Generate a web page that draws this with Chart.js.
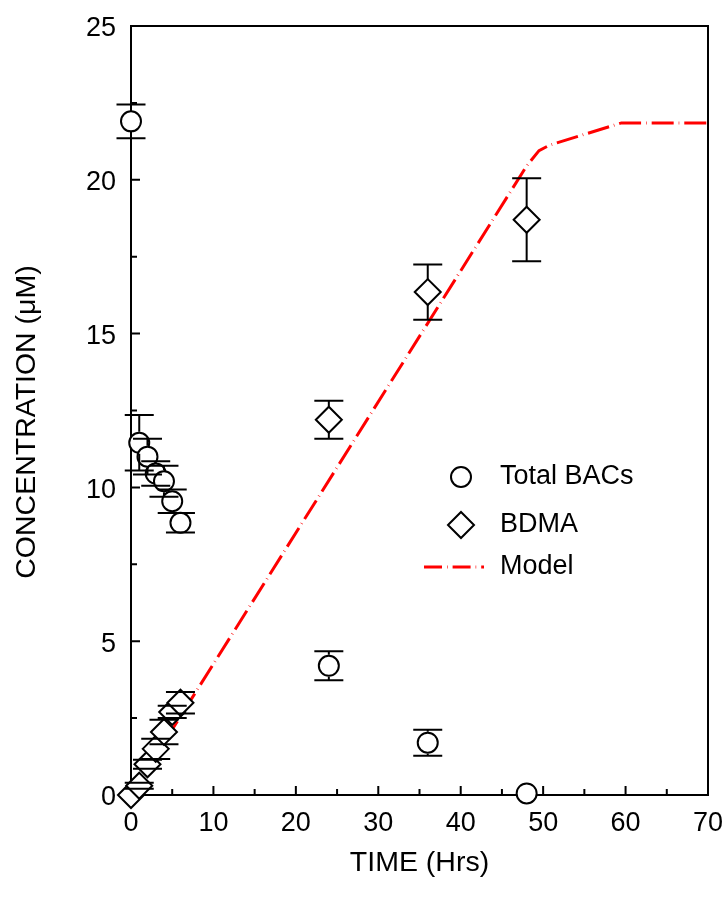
<!DOCTYPE html>
<html>
<head>
<meta charset="utf-8">
<script src="https://cdn.jsdelivr.net/npm/chart.js@4/dist/chart.umd.min.js"></script>
<style>
html,body{margin:0;padding:0;background:#fff;}
canvas{display:block;}
</style>
</head>
<body>
<canvas id="c" width="726" height="898"></canvas>
<script>
// ---- data ----
const times = [0, 1, 2, 3, 4, 5, 6, 24, 36, 48];
const totalBACs = [21.9, 11.45, 11.0, 10.45, 10.2, 9.55, 8.85, 4.2, 1.7, 0.05];
const totalBACsErr = [0.55, 0.9, 0.58, 0.4, 0.5, 0.38, 0.32, 0.47, 0.42, 0];
const bdma = [0, 0.3, 1.0, 1.5, 2.05, 2.7, 3.0, 12.2, 16.35, 18.7];
const bdmaErr = [0, 0.1, 0.15, 0.33, 0.4, 0.2, 0.35, 0.62, 0.9, 1.35];
const modelT = [0, 48, 49.5, 50.8, 59.5, 70];
const modelY = [0, 20.45, 20.95, 21.13, 21.85, 21.85];
const xTicks = [0, 10, 20, 30, 40, 50, 60, 70];
const yTicks = [0, 5, 10, 15, 20, 25];
const legendLabels = ['Total BACs', 'BDMA', 'Model'];
const xTitle = 'TIME (Hrs)';
const yTitle = 'CONCENTRATION (\u03BCM)';

const FONT = "Arial, 'Liberation Sans', sans-serif";
const FS = 27;
const TFS = 28.5;

function pts(xs, ys) { return xs.map((x, i) => ({ x: x, y: ys[i] })); }

const MODEL_DASH = [22, 5, 0.6, 5];

const framePlugin = {
  id: 'frame',
  beforeDatasetsDraw(chart) {
    const ctx = chart.ctx;
    const a = chart.chartArea;
    ctx.save();
    ctx.strokeStyle = '#000';
    ctx.lineWidth = 2;
    ctx.strokeRect(a.left, a.top, a.right - a.left, a.bottom - a.top);
    ctx.restore();
  },
  afterDatasetsDraw(chart) {
    const ctx = chart.ctx;
    const xs = chart.scales.x, ys = chart.scales.y;
    const drawErr = (vals, errs, edge) => {
      ctx.save();
      ctx.strokeStyle = '#000';
      ctx.lineWidth = 2;
      vals.forEach((v, i) => {
        const e = errs[i];
        if (!e) return;
        const px = xs.getPixelForValue(times[i]);
        const py = ys.getPixelForValue(v);
        const top = ys.getPixelForValue(v + e);
        const bot = ys.getPixelForValue(v - e);
        ctx.beginPath();
        if (py - top > edge) { ctx.moveTo(px, top); ctx.lineTo(px, py - edge); }
        if (bot - py > edge) { ctx.moveTo(px, py + edge); ctx.lineTo(px, bot); }
        ctx.moveTo(px - 14.5, top); ctx.lineTo(px + 14.5, top);
        ctx.moveTo(px - 14.5, bot); ctx.lineTo(px + 14.5, bot);
        ctx.stroke();
      });
      ctx.restore();
    };
    drawErr(totalBACs, totalBACsErr, 11);
    drawErr(bdma, bdmaErr, 13);
  },
  afterDraw(chart) {
    const ctx = chart.ctx;
    const a = chart.chartArea;
    const xs = chart.scales.x, ys = chart.scales.y;
    ctx.save();
    ctx.strokeStyle = '#000';
    ctx.lineWidth = 2;
    // inward ticks
    ctx.beginPath();
    for (let v = xs.min; v <= xs.max + 1e-9; v += 5) {
      if (v === xs.min || v === xs.max) continue;
      const px = xs.getPixelForValue(v);
      const len = (v % 10 === 0) ? 9 : 6;
      ctx.moveTo(px, a.bottom); ctx.lineTo(px, a.bottom - len);
    }
    for (let v = ys.min; v <= ys.max + 1e-9; v += 2.5) {
      if (v === ys.min || v === ys.max) continue;
      const py = ys.getPixelForValue(v);
      const len = (v % 5 === 0) ? 9 : 6;
      ctx.moveTo(a.left, py); ctx.lineTo(a.left + len, py);
    }
    ctx.stroke();

    // y-axis title
    ctx.fillStyle = '#000';
    ctx.font = TFS + 'px ' + FONT;
    ctx.textAlign = 'center';
    ctx.textBaseline = 'middle';
    ctx.save();
    ctx.translate(27, 422);
    ctx.rotate(-Math.PI / 2);
    ctx.fillText(yTitle, 0, 0);
    ctx.restore();

    // legend
    const lx = 461, ly = [477, 525, 567];
    ctx.fillStyle = '#fff';
    ctx.strokeStyle = '#000';
    ctx.lineWidth = 2;
    ctx.beginPath(); ctx.arc(lx, ly[0], 10, 0, Math.PI * 2); ctx.fill(); ctx.stroke();
    ctx.beginPath();
    ctx.moveTo(lx - 13, ly[1]); ctx.lineTo(lx, ly[1] - 13); ctx.lineTo(lx + 13, ly[1]); ctx.lineTo(lx, ly[1] + 13); ctx.closePath();
    ctx.fill(); ctx.stroke();
    ctx.strokeStyle = '#ff0000';
    ctx.lineWidth = 3;
    ctx.setLineDash([18, 5, 0.6, 5]);
    ctx.beginPath(); ctx.moveTo(424, ly[2]); ctx.lineTo(484, ly[2]); ctx.stroke();
    ctx.setLineDash([]);
    ctx.fillStyle = '#000';
    ctx.font = FS + 'px ' + FONT;
    ctx.textBaseline = 'middle';
    ctx.textAlign = 'left';
    legendLabels.forEach((t, i) => ctx.fillText(t, 500, ly[i]));
    ctx.restore();
  }
};

new Chart(document.getElementById('c'), {
  type: 'scatter',
  data: {
    datasets: [
      {
        label: legendLabels[0],
        data: pts(times, totalBACs),
        pointStyle: 'circle',
        pointRadius: 10,
        pointBorderWidth: 2,
        borderColor: '#000',
        backgroundColor: '#fff',
        showLine: false,
        clip: false
      },
      {
        label: legendLabels[1],
        data: pts(times, bdma),
        pointStyle: 'rectRot',
        pointRadius: 13,
        pointBorderWidth: 2,
        borderColor: '#000',
        backgroundColor: '#fff',
        showLine: false,
        clip: false
      },
      {
        label: legendLabels[2],
        data: pts(modelT, modelY),
        showLine: true,
        pointRadius: 0,
        borderColor: '#ff0000',
        borderWidth: 3,
        borderDash: MODEL_DASH,
        fill: false,
        tension: 0
      }
    ]
  },
  options: {
    responsive: false,
    animation: false,
    layout: { padding: { top: 26, right: 18, left: 0, bottom: 0 } },
    plugins: { legend: { display: false }, tooltip: { enabled: false } },
    scales: {
      x: {
        type: 'linear', min: 0, max: 70,
        afterBuildTicks(s) { s.ticks = xTicks.map(v => ({ value: v })); },
        afterFit(s) { s.height = 103; s.paddingLeft = 0; s.paddingRight = 0; },
        grid: { display: false, drawTicks: false },
        border: { display: true, color: '#000', width: 2 },
        ticks: { color: '#000', font: { family: FONT, size: FS }, padding: 12, maxRotation: 0, autoSkip: false },
        title: { display: true, text: xTitle, color: '#000', font: { family: FONT, size: TFS }, padding: { top: 0, bottom: 18 } }
      },
      y: {
        type: 'linear', min: 0, max: 25,
        afterBuildTicks(s) { s.ticks = yTicks.map(v => ({ value: v })); },
        afterFit(s) { s.width = 131; s.paddingTop = 0; s.paddingBottom = 0; },
        grid: { display: false, drawTicks: false },
        border: { display: true, color: '#000', width: 2 },
        ticks: { color: '#000', font: { family: FONT, size: FS }, padding: 15, labelOffset: 3, autoSkip: false },
        title: { display: false }
      }
    }
  },
  plugins: [framePlugin]
});
</script>
</body>
</html>
